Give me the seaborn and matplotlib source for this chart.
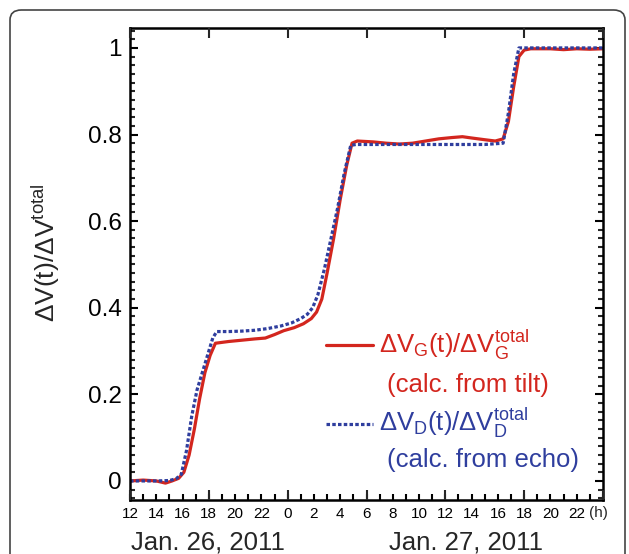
import matplotlib.pyplot as plt
import matplotlib.ticker as mticker
from matplotlib.patches import FancyBboxPatch
import seaborn as sns
import pandas as pd

# hours since 12:00 on Jan. 26, 2011
tilt_t = [0, 1, 2, 2.7, 3.2, 3.7, 4.1, 4.5, 4.9, 5.3, 5.7, 6.1, 6.5, 7.5, 8.5, 9.5, 10.3,
          11.0, 11.7, 12.5, 13.2, 13.8, 14.2, 14.6, 15.0, 15.5, 16.0, 16.5, 16.9, 17.3,
          18.5, 19.5, 20.5, 21.5, 22.5, 23.5, 24.5, 25.3, 26.0, 27.0, 27.8, 28.4, 28.8,
          29.2, 29.6, 30.0, 30.5, 32, 33, 34, 35, 36]
tilt_v = [0.0, 0.002, 0.0, -0.005, 0.0, 0.006, 0.02, 0.06, 0.12, 0.19, 0.25, 0.29, 0.318,
          0.322, 0.325, 0.328, 0.330, 0.338, 0.347, 0.354, 0.363, 0.375, 0.39, 0.42, 0.48,
          0.56, 0.65, 0.73, 0.78, 0.785, 0.783, 0.780, 0.778, 0.780, 0.785, 0.790, 0.793,
          0.795, 0.792, 0.788, 0.785, 0.79, 0.83, 0.91, 0.98, 0.995, 0.998, 0.998, 0.996,
          0.998, 0.997, 0.998]

echo_t = [0, 1, 2, 3, 3.5, 3.9, 4.3, 4.7, 5.1, 5.5, 5.9, 6.3, 6.6, 7.5, 8.5, 9.5, 10.5,
          11.5, 12.3, 13.0, 13.5, 13.9, 14.3, 14.8, 15.3, 15.8, 16.3, 16.8, 17.2, 19, 21,
          23, 25, 27, 28.4, 28.8, 29.2, 29.6, 30.5, 32, 34, 36]
echo_v = [0.0, 0.0, 0.0, 0.001, 0.005, 0.015, 0.07, 0.15, 0.21, 0.25, 0.29, 0.33, 0.345,
          0.345, 0.346, 0.348, 0.352, 0.358, 0.365, 0.375, 0.385, 0.40, 0.43, 0.49, 0.56,
          0.63, 0.71, 0.775, 0.777, 0.777, 0.777, 0.777, 0.777, 0.777, 0.78, 0.85, 0.94,
          1.0, 1.0, 1.0, 1.0, 1.0]

hour_ticks = list(range(0, 36, 2))
hour_labels = ['12', '14', '16', '18', '20', '22', '0', '2', '4', '6', '8', '10',
               '12', '14', '16', '18', '20', '22']
day_labels = ['Jan. 26, 2011', 'Jan. 27, 2011']

red = '#d3261e'
blue = '#2f3e9e'

sns.set_theme(style='white')
plt.rcParams['font.family'] = ['Liberation Sans', 'DejaVu Sans']
plt.rcParams['mathtext.fontset'] = 'custom'
plt.rcParams['mathtext.rm'] = 'Liberation Sans'
plt.rcParams['mathtext.it'] = 'Liberation Sans'
plt.rcParams['mathtext.default'] = 'regular'

fig = plt.figure(figsize=(6.29, 5.54), dpi=100)
fig.patches.append(FancyBboxPatch((10 / 629, -0.05), 615 / 629, 1 - 10 / 554 + 0.05,
                                  boxstyle='round,pad=0,rounding_size=0.018',
                                  transform=fig.transFigure, fill=False,
                                  edgecolor='#444444', linewidth=1.2))
ax = fig.add_axes([130 / 629, 1 - 500 / 554, 473 / 629, 472 / 554])

tilt = pd.DataFrame({'t': tilt_t, 'v': tilt_v})
echo = pd.DataFrame({'t': echo_t, 'v': echo_v})
sns.lineplot(data=tilt, x='t', y='v', ax=ax, color=red, linewidth=2.3,
             estimator=None, sort=False)
sns.lineplot(data=echo, x='t', y='v', ax=ax, color=blue, linewidth=2.3,
             estimator=None, sort=False, dashes=False, linestyle=(0, (1.1, 0.7)))

ax.set_xlim(0, 36)
ax.set_ylim(-0.044, 1.046)
ax.set_xlabel('')
ax.set_ylabel(r'$\Delta V(t)/\Delta V^{total}$', fontsize=19)
ax.yaxis.set_label_coords(-0.143, 0.523)

ax.set_xticks(hour_ticks)
ax.set_xticklabels(hour_labels, fontsize=11)
ax.xaxis.set_minor_locator(mticker.MultipleLocator(1))
ax.set_yticks([0, 0.2, 0.4, 0.6, 0.8, 1.0])
ax.set_yticklabels(['0', '0.2', '0.4', '0.6', '0.8', '1'], fontsize=17.5)
ax.yaxis.set_minor_locator(mticker.MultipleLocator(0.02))
ax.tick_params(axis='x', which='both', direction='in', top=True, bottom=True,
               length=4, width=1.5, pad=5, colors='black')
ax.tick_params(axis='y', which='major', direction='in', left=True, right=True,
               length=6, width=1.5, pad=6, colors='black')
ax.tick_params(axis='y', which='minor', direction='in', left=True, right=True,
               length=3.5, width=1.5)
for s in ax.spines.values():
    s.set_linewidth(1.8)
    s.set_color('black')

# long ticks every 6 hours
ax6 = ax.twiny()
ax6.set_xlim(ax.get_xlim())
ax6.set_xticks(range(0, 37, 6))
ax6.tick_params(axis='x', which='major', direction='in', top=True, bottom=True,
                labeltop=False, labelbottom=False, length=7, width=1.5)
for s in ax6.spines.values():
    s.set_visible(False)

ax.text(0.99, -0.028, '(h)', transform=ax.transAxes, ha='center', va='center', fontsize=11)
ax.text(0.165, -0.064, day_labels[0], transform=ax.transAxes, ha='center', va='top',
        fontsize=18.5)
ax.text(0.71, -0.064, day_labels[1], transform=ax.transAxes, ha='center', va='top',
        fontsize=18.5)

# legend
ax.plot([0.414, 0.514], [0.328, 0.328], transform=ax.transAxes, color=red, linewidth=2.3)
ax.text(0.526, 0.328, r'$\Delta V_G(t)/\Delta V_G^{total}$', transform=ax.transAxes,
        color=red, fontsize=18.5, va='center', ha='left')
ax.text(0.543, 0.244, '(calc. from tilt)', transform=ax.transAxes,
        color=red, fontsize=18.5, va='center', ha='left')
ax.plot([0.414, 0.514], [0.161, 0.161], transform=ax.transAxes, color=blue, linewidth=2.3,
        linestyle=(0, (1.1, 0.7)))
ax.text(0.526, 0.163, r'$\Delta V_D(t)/\Delta V_D^{total}$', transform=ax.transAxes,
        color=blue, fontsize=18.5, va='center', ha='left')
ax.text(0.543, 0.085, '(calc. from echo)', transform=ax.transAxes,
        color=blue, fontsize=18.5, va='center', ha='left')

fig.savefig('out.png', dpi=100)
